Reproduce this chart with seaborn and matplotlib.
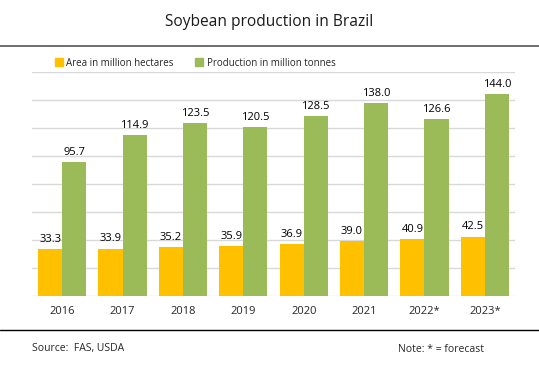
import pandas as pd
import matplotlib
matplotlib.use("Agg")
import matplotlib.pyplot as plt
import seaborn as sns
from matplotlib.lines import Line2D

years = ["2016", "2017", "2018", "2019", "2020", "2021", "2022*", "2023*"]
area = [33.3, 33.9, 35.2, 35.9, 36.9, 39.0, 40.9, 42.5]
production = [95.7, 114.9, 123.5, 120.5, 128.5, 138.0, 126.6, 144.0]
series_names = ["Area in million hectares", "Production in million tonnes"]
colors = ["#FFC000", "#9BBB59"]

df = pd.DataFrame({
    "year": years * 2,
    "value": area + production,
    "series": [series_names[0]] * len(years) + [series_names[1]] * len(years),
})

sns.set_style("white")
plt.rcParams["font.family"] = ["Open Sans", "DejaVu Sans"]

fig = plt.figure(figsize=(5.39, 3.71), dpi=100)
ax = fig.add_axes([32 / 539, 1 - 296 / 371, 483 / 539, 224 / 371])

sns.barplot(data=df, x="year", y="value", hue="series", palette=colors,
            width=0.8, saturation=1, linewidth=0, ax=ax, legend=False)

# etiquetas de valor encima de cada barra
for cont in ax.containers:
    ax.bar_label(cont, fmt="%.1f", padding=3, fontsize=8, color="#000000")

ax.set_ylim(0, 160)
ax.set_yticks(range(0, 161, 20))
ax.yaxis.grid(True, color="#D9D9D9", linewidth=1)
ax.set_axisbelow(True)
ax.set_yticklabels([])
ax.tick_params(axis="y", length=0)
ax.tick_params(axis="x", length=0, labelsize=8, pad=7)
ax.set_xlabel("")
ax.set_ylabel("")
for s in ax.spines.values():
    s.set_visible(False)
ax.set_xlim(-0.5, len(years) - 0.5)

handles = [plt.Rectangle((0, 0), 1, 1, color=c) for c in colors]
fig.legend(handles, series_names, loc="center left",
           bbox_to_anchor=(46 / 539, 1 - 63 / 371), ncol=2, frameon=False,
           fontsize=7, handlelength=0.8, handleheight=0.8,
           handletextpad=0.4, columnspacing=2.2)

fig.text(0.5, 1 - 22 / 371, "Soybean production in Brazil", ha="center",
         va="center", fontsize=11.2, color="#1A1A1A")
fig.add_artist(Line2D([0, 1], [1 - 46 / 371] * 2, color="#555555", linewidth=1.2))
fig.add_artist(Line2D([0, 1], [1 - 330 / 371] * 2, color="#000000", linewidth=1))
fig.text(32 / 539, 1 - 349 / 371, "Source:  FAS, USDA", ha="left", va="center",
         fontsize=7.5)
fig.text(398 / 539, 1 - 349 / 371, "Note: * = forecast", ha="left", va="center",
         fontsize=7.5)

fig.savefig("out.png", dpi=100)
